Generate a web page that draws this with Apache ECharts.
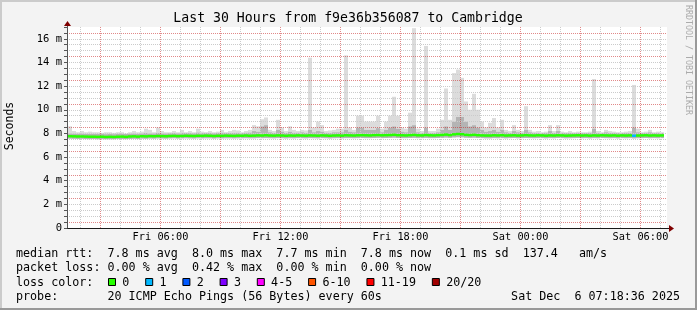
<!DOCTYPE html>
<html><head><meta charset="utf-8">
<script src="https://cdn.jsdelivr.net/npm/echarts@6/dist/echarts.min.js"></script>
<style>
html,body{margin:0;padding:0;background:#f3f3f3;}
#c{width:697px;height:310px;}
</style></head><body><div id="c"></div>
<script>
// ---- DATA (hours since Fri 00:00; values in ms) ----
const axisStartHour = 1.325;   // Fri 01:19
const axisEndHour = 31.325;    // Sat 07:19
const firstBinHour = 1.4;
const binHours = 0.2;          // 12-minute steps

const smokeMax = [
 8.6,8.2,8.1,8.2,8.1,8.15,8.1,8.1,8.05,8.1,
 8.1,8.05,8.1,8.1,8.0,8.1,8.2,8.1,8.15,8.4,
 8.3,8.1,8.5,8.2,8.1,8.1,8.2,8.1,8.3,8.1,
 8.2,8.1,8.4,8.15,8.1,8.2,8.1,8.15,8.3,8.1,
 8.2,8.3,8.25,8.1,8.2,8.3,8.7,8.6,9.2,9.35,
 8.3,8.2,9.15,8.5,8.2,8.6,8.3,8.2,8.3,8.25,
 14.4,8.5,9.0,8.7,8.2,8.25,8.3,8.4,8.4,14.6,
 8.5,8.3,9.5,9.5,9.0,9.0,9.0,9.5,8.4,9.0,
 9.5,11.1,9.5,8.5,8.4,9.75,16.9,8.4,8.2,15.4,
 8.2,8.2,8.4,9.15,11.8,9.15,13.1,13.4,12.7,10.7,
 10.0,11.35,10.0,9.0,8.5,8.9,9.3,8.5,9.15,8.3,
 8.2,8.7,8.3,8.2,10.3,8.3,8.15,8.2,8.1,8.15,
 8.7,8.2,8.7,8.15,8.1,8.2,8.1,8.15,8.1,8.1,
 8.15,12.6,8.2,8.1,8.3,8.2,8.15,8.1,8.1,8.15,
 8.2,12.1,8.4,8.1,8.15,8.3,8.1,8.15,8.1
];
const smokeMid = [
 8.0,7.98,7.97,7.98,7.96,7.95,7.96,7.95,7.96,7.94,
 7.95,7.94,7.96,7.97,7.95,7.98,7.99,7.97,8.0,8.05,
 8.0,8.0,8.05,8.0,8.0,8.02,8.03,8.01,8.05,8.04,
 8.03,8.02,8.08,8.03,8.05,8.04,8.02,8.04,8.06,8.05,
 8.04,8.05,8.06,8.04,8.06,8.08,8.2,8.15,8.6,8.7,
 8.1,8.05,8.3,8.15,8.04,8.15,8.06,8.07,8.1,8.05,
 8.3,8.1,8.2,8.15,8.06,8.05,8.1,8.1,8.1,8.3,
 8.15,8.1,8.5,8.5,8.3,8.3,8.3,8.45,8.1,8.3,
 8.5,8.6,8.4,8.15,8.1,8.6,8.7,8.1,8.05,8.5,
 8.05,8.05,8.1,8.3,8.6,8.3,9.0,9.4,9.4,9.0,
 8.6,8.7,8.5,8.3,8.15,8.2,8.3,8.15,8.3,8.1,
 8.05,8.2,8.1,8.05,8.3,8.1,8.05,8.05,8.04,8.05,
 8.2,8.05,8.2,8.05,8.04,8.05,8.04,8.05,8.04,8.04,
 8.05,8.4,8.05,8.04,8.1,8.05,8.05,8.04,8.04,8.05,
 8.05,8.5,8.1,8.04,8.05,8.1,8.04,8.05,8.04
];
const smokeMin = [
 7.55,7.54,7.53,7.54,7.52,7.51,7.52,7.5,7.51,7.5,
 7.5,7.5,7.52,7.52,7.51,7.53,7.54,7.52,7.55,7.54,
 7.56,7.55,7.57,7.56,7.55,7.57,7.58,7.56,7.57,7.58,
 7.57,7.56,7.58,7.57,7.58,7.58,7.56,7.58,7.57,7.58,
 7.58,7.57,7.58,7.58,7.59,7.58,7.58,7.6,7.59,7.6,
 7.59,7.58,7.6,7.59,7.57,7.59,7.58,7.6,7.59,7.58,
 7.6,7.59,7.58,7.6,7.59,7.57,7.59,7.6,7.58,7.6,
 7.6,7.59,7.6,7.61,7.6,7.6,7.61,7.62,7.6,7.61,
 7.62,7.63,7.61,7.6,7.6,7.61,7.62,7.6,7.6,7.62,
 7.6,7.6,7.61,7.62,7.64,7.62,7.65,7.67,7.66,7.63,
 7.62,7.63,7.61,7.6,7.58,7.58,7.6,7.59,7.6,7.58,
 7.6,7.61,7.59,7.6,7.61,7.6,7.59,7.6,7.6,7.58,
 7.6,7.59,7.61,7.6,7.58,7.59,7.6,7.61,7.59,7.6,
 7.58,7.6,7.59,7.61,7.6,7.59,7.6,7.58,7.6,7.59,
 7.6,7.57,7.59,7.6,7.61,7.59,7.6,7.59,7.6
];
const medianRtt = [
 7.76,7.75,7.74,7.74,7.73,7.72,7.72,7.71,7.72,7.70,
 7.71,7.70,7.72,7.73,7.71,7.74,7.75,7.73,7.76,7.75,
 7.77,7.76,7.78,7.77,7.76,7.78,7.79,7.77,7.78,7.80,
 7.79,7.78,7.80,7.79,7.81,7.80,7.78,7.80,7.79,7.81,
 7.80,7.79,7.81,7.80,7.82,7.80,7.81,7.83,7.82,7.84,
 7.82,7.81,7.83,7.82,7.80,7.82,7.81,7.83,7.82,7.81,
 7.83,7.82,7.81,7.83,7.82,7.80,7.82,7.83,7.81,7.84,
 7.83,7.82,7.84,7.85,7.84,7.83,7.85,7.86,7.84,7.85,
 7.86,7.88,7.85,7.84,7.83,7.85,7.87,7.84,7.83,7.86,
 7.84,7.83,7.85,7.87,7.90,7.86,7.92,7.95,7.93,7.88,
 7.86,7.88,7.85,7.83,7.82,7.82,7.84,7.83,7.85,7.82,
 7.83,7.84,7.82,7.83,7.85,7.83,7.82,7.84,7.83,7.81,
 7.83,7.82,7.84,7.83,7.81,7.82,7.83,7.84,7.82,7.83,
 7.81,7.83,7.82,7.84,7.83,7.82,7.83,7.81,7.83,7.82,
 7.83,7.80,7.82,7.83,7.84,7.82,7.83,7.82,7.83
];
const lossCount = [
 0,0,0,0,0,0,0,0,0,0, 0,0,0,0,0,0,0,0,0,0,
 0,0,0,0,0,0,0,0,0,0, 0,0,0,0,0,0,0,0,0,0,
 0,0,0,0,0,0,0,0,0,0, 0,0,0,0,0,0,0,0,0,0,
 0,0,0,0,0,0,0,0,0,0, 0,0,0,0,0,0,0,0,0,0,
 0,0,0,0,0,0,0,0,0,0, 0,0,0,0,0,0,0,0,0,0,
 0,0,0,0,0,0,0,0,0,0, 0,0,0,0,0,0,0,0,0,0,
 0,0,0,0,0,0,0,0,0,0, 0,0,0,0,0,0,0,0,0,0,
 0,1,0,0,0,0,0,0,0
];
const xTickValues = [6, 12, 18, 24, 30];
const xTickLabels = ['Fri 06:00', 'Fri 12:00', 'Fri 18:00', 'Sat 00:00', 'Sat 06:00'];
const yTickValues = [0, 2, 4, 6, 8, 10, 12, 14, 16];
const yTickLabels = ['0', '2 m', '4 m', '6 m', '8 m', '10 m', '12 m', '14 m', '16 m'];
const lossLabels = ['0', '1', '2', '3', '4-5', '6-10', '11-19', '20/20'];
const lossColors = ['#26ff00', '#00b8ff', '#0059ff', '#7e00ff', '#ff00ff', '#ff5500', '#ff0000', '#a10000'];
const titleText = 'Last 30 Hours from f9e36b356087 to Cambridge';
const legendRow1 = 'median rtt:  7.8 ms avg  8.0 ms max  7.7 ms min  7.8 ms now  0.1 ms sd  137.4   am/s';
const legendRow2 = 'packet loss: 0.00 % avg  0.42 % max  0.00 % min  0.00 % now';
const legendRow3 = 'loss color:';
const legendRow4 = 'probe:       20 ICMP Echo Pings (56 Bytes) every 60s';
const dateText = 'Sat Dec  6 07:18:36 2025';

// ---- build ----
const MONO = 'DejaVu Sans Mono';
const RED = 'rgba(200,40,40,0.55)';
const GRAY = '#cbcbcb';
const rows = smokeMax.map((mx, k) => {
  const s = firstBinHour + k * binHours;
  return [s, firstBinHour + (k + 1) * binHours, smokeMin[k], smokeMid[k], mx, medianRtt[k], lossCount[k]];
});
function lossBucket(n) {
  if (n <= 0) return 0; if (n === 1) return 1; if (n === 2) return 2; if (n === 3) return 3;
  if (n <= 5) return 4; if (n <= 10) return 5; if (n <= 19) return 6; return 7;
}
function snap(px) { return Math.round(px - 0.25); }
function binX(api) {
  const a = snap(api.coord([api.value(0), 0])[0]);
  const b = snap(api.coord([api.value(1), 0])[0]);
  return [a, b];
}
function renderSmoke(params, api) {
  const [x0, x1] = binX(api);
  const yLo = api.coord([api.value(0), api.value(2)])[1];
  const yMd = api.coord([api.value(0), api.value(3)])[1];
  const yHi = api.coord([api.value(0), api.value(4)])[1];
  return {type: 'group', children: [
    {type: 'rect', shape: {x: x0, y: yHi, width: x1 - x0, height: yMd - yHi}, style: {fill: '#dcdcdc'}},
    {type: 'rect', shape: {x: x0, y: yMd, width: x1 - x0, height: yLo - yMd}, style: {fill: '#b4b4b4'}}
  ]};
}
function renderMedian(params, api) {
  const [x0, x1] = binX(api);
  const y = api.coord([api.value(0), api.value(5)])[1];
  return {type: 'rect', shape: {x: x0, y: y - 1.25, width: x1 - x0, height: 2.5},
          style: {fill: lossColors[lossBucket(api.value(6))]}};
}
const vLines = [];
for (let h = Math.ceil(axisStartHour); h <= Math.floor(axisEndHour); h++) {
  vLines.push({xAxis: h, lineStyle: {color: h % 3 === 0 ? RED : GRAY, type: [1, 1], width: 1}});
}

const chart = echarts.init(document.getElementById('c'), null, {renderer: 'canvas'});
chart.setOption({
  animation: false,
  backgroundColor: '#f3f3f3',
  grid: {left: 67, top: 27, width: 600, height: 201, backgroundColor: '#ffffff', show: true, borderWidth: 0},
  xAxis: {
    type: 'value', min: axisStartHour, max: axisEndHour,
    axisLine: {show: true, lineStyle: {color: '#1a1a1a', width: 1}},
    axisTick: {show: false},
    splitLine: {show: false},
    axisLabel: {
      customValues: xTickValues,
      formatter: v => xTickLabels[xTickValues.indexOf(v)] || '',
      margin: 4, fontSize: 10.3, fontFamily: MONO, color: '#000'
    }
  },
  yAxis: {
    type: 'value', min: 0, max: 17, interval: 0.5, z: 3,
    axisLine: {show: true, lineStyle: {color: '#555', width: 1}},
    axisTick: {show: true, length: 3, lineStyle: {color: '#555'}},
    axisLabel: {
      customValues: yTickValues,
      formatter: v => { const i = yTickValues.indexOf(v); return i >= 0 ? yTickLabels[i] : ''; },
      margin: 5, fontSize: 10.5, fontFamily: MONO, color: '#000'
    },
    splitLine: {show: true, showMinLine: false, showMaxLine: false,
      lineStyle: {color: [RED, GRAY, GRAY, GRAY], type: [1, 1], width: 1}}
  },
  series: [
    {
      type: 'custom', name: 'smoke', data: rows, renderItem: renderSmoke, clip: true, z: 2,
      encode: {x: [0, 1], y: [2, 4]}, silent: true,
      markLine: {silent: true, symbol: ['none', 'none'], label: {show: false}, z: 4, data: vLines}
    },
    {
      type: 'custom', name: 'median', data: rows, renderItem: renderMedian, clip: true, z: 6,
      encode: {x: [0, 1], y: 5}, silent: true
    }
  ]
});

// decorations positioned from the chart's own scale
const pEnd = chart.convertToPixel({gridIndex: 0}, [axisEndHour, 0]);
const pTop = chart.convertToPixel({gridIndex: 0}, [axisStartHour, 17]);
const W = 697, H = 310;
const g = [];
// frame
g.push({type: 'rect', shape: {x: 0, y: 0, width: W, height: 2}, style: {fill: '#cbcbcb'}, silent: true});
g.push({type: 'rect', shape: {x: 0, y: 0, width: 2, height: H}, style: {fill: '#cbcbcb'}, silent: true});
g.push({type: 'rect', shape: {x: 0, y: H - 2, width: W, height: 2}, style: {fill: '#999999'}, silent: true});
g.push({type: 'rect', shape: {x: W - 2, y: 0, width: 2, height: H}, style: {fill: '#999999'}, silent: true});
// axis extensions and arrows
g.push({type: 'line', shape: {x1: pEnd[0], y1: Math.round(pEnd[1]) + 0.5, x2: pEnd[0] + 3, y2: Math.round(pEnd[1]) + 0.5}, style: {stroke: '#1a1a1a', lineWidth: 1}, z: 10});
g.push({type: 'polygon', shape: {points: [[pEnd[0] + 2, pEnd[1] - 3], [pEnd[0] + 7, pEnd[1] + 0.5], [pEnd[0] + 2, pEnd[1] + 4]]}, style: {fill: '#7f0000'}, z: 10});
g.push({type: 'line', shape: {x1: Math.round(pTop[0]) + 0.5, y1: pTop[1], x2: Math.round(pTop[0]) + 0.5, y2: pTop[1] - 3}, style: {stroke: '#555', lineWidth: 1}, z: 10});
g.push({type: 'polygon', shape: {points: [[pTop[0] - 3, pTop[1] - 1], [pTop[0] + 0.5, pTop[1] - 6], [pTop[0] + 4, pTop[1] - 1]]}, style: {fill: '#7f0000'}, z: 10});
// title
g.push({type: 'text', x: 348, y: 19, style: {text: titleText, font: '13.2px "' + MONO + '"', fill: '#000', align: 'center', verticalAlign: 'middle'}});
// y axis name
g.push({type: 'text', x: 10, y: 126, rotation: Math.PI / 2, style: {text: 'Seconds', font: '11.5px "' + MONO + '"', fill: '#000', align: 'center', verticalAlign: 'middle'}});
// watermark
g.push({type: 'text', x: 688, y: 60, rotation: -Math.PI / 2, style: {text: 'RRDTOOL / TOBI OETIKER', font: '8.3px "' + MONO + '"', fill: '#ababab', align: 'center', verticalAlign: 'middle'}});
// legend rows
const LF = '11.7px "' + MONO + '"';
const rowY = [254.3, 268.4, 282.5, 296.6];
[legendRow1, legendRow2, legendRow3, legendRow4].forEach((t, i) => {
  g.push({type: 'text', x: 16, y: rowY[i], style: {text: t, font: LF, fill: '#000', align: 'left', verticalAlign: 'middle'}});
});
g.push({type: 'text', x: 680, y: rowY[3], style: {text: dateText, font: LF, fill: '#000', align: 'right', verticalAlign: 'middle'}});
let bx = 108;
lossLabels.forEach((lab, i) => {
  g.push({type: 'rect', shape: {x: bx + 0.5, y: 278.5, width: 7, height: 7}, style: {fill: lossColors[i], stroke: '#000', lineWidth: 1}});
  g.push({type: 'text', x: bx + 14.3, y: rowY[2], style: {text: lab, font: LF, fill: '#000', align: 'left', verticalAlign: 'middle'}});
  bx += 37.2 + (lab.length - 1) * 7.05;
});
chart.setOption({graphic: g});
</script></body></html>
